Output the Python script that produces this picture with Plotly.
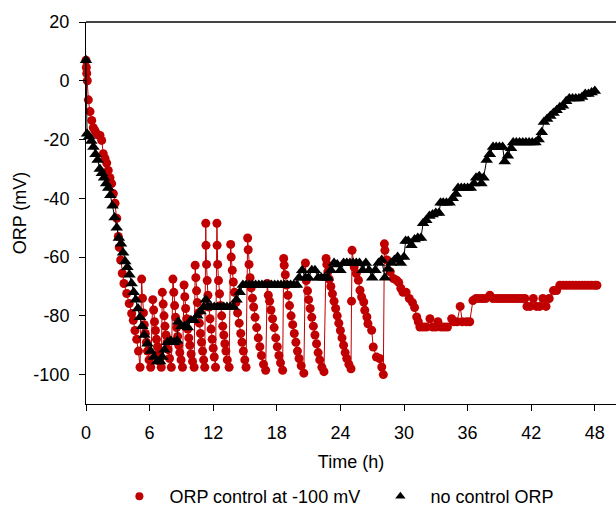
import plotly.graph_objects as go

# ---------------- data ----------------
# ORP control at -100 mV (red)
red_t = [
    0, 0.03, 0.07, 0.12, 0.22, 0.38, 0.54, 0.69, 0.85, 1.0, 1.16, 1.32, 1.48, 1.63, 1.79, 1.95, 2.1, 2.26,
    2.42, 2.58, 2.74, 2.9, 3.05, 3.14, 3.27, 3.42, 3.58, 3.84, 4.08, 4.31, 4.46, 4.62, 4.78, 4.95, 5.1,
    5.25, 5.33, 5.42, 5.5, 5.6, 5.7, 5.8, 5.95, 6.1,
    6.3, 6.38, 6.46, 6.55, 6.65, 6.75, 6.85, 6.95, 7.1,
    7.2, 7.28, 7.36, 7.45, 7.55, 7.65, 7.75, 7.88, 8.05,
    8.2, 8.28, 8.36, 8.45, 8.55, 8.65, 8.75, 8.85, 8.97, 9.1,
    9.25, 9.32, 9.4, 9.5, 9.6, 9.7, 9.8, 9.92, 10.05, 10.2,
    10.3, 10.36, 10.43, 10.5, 10.6, 10.7, 10.8, 10.9, 11.0, 11.1, 11.2,
    11.3, 11.32, 11.37, 11.43, 11.5, 11.6, 11.7, 11.8, 11.9, 12.0, 12.1, 12.22,
    12.35, 12.37, 12.42, 12.5, 12.6, 12.7, 12.8, 12.9, 13.0, 13.1, 13.2, 13.33, 13.5,
    13.65, 13.7, 13.8, 13.9, 14.0, 14.15, 14.3, 14.45, 14.6, 14.72, 14.85, 14.98, 15.1,
    15.25, 15.3, 15.38, 15.48, 15.58, 15.7, 15.82, 15.95, 16.1, 16.25, 16.4, 16.55, 16.75, 16.95,
    17.1, 17.2, 17.32, 17.45, 17.6, 17.75, 17.9, 18.05, 18.2, 18.35, 18.55,
    18.65, 18.7, 18.8, 18.92, 19.05, 19.2, 19.35, 19.5, 19.65, 19.8, 19.95, 20.1, 20.3, 20.55,
    20.7, 20.78, 20.9, 21.0, 21.15, 21.3, 21.45, 21.6, 21.75, 21.9, 22.05, 22.25, 22.45,
    22.65, 22.72, 22.82, 22.95, 23.1, 23.25, 23.4, 23.55, 23.7, 23.85, 24.0, 24.15, 24.3, 24.45, 24.6, 24.8, 25.0,
    25.05, 25.1, 25.3, 25.5, 25.7, 25.85, 26.0, 26.2, 26.3, 26.5, 26.6, 26.95, 27.1, 27.4, 27.7, 27.9, 28.05,
    28.15, 28.2, 28.4, 28.7, 29.0, 29.3, 29.5, 29.7, 29.9, 30.2, 30.5, 30.8, 31.0, 31.2, 31.35,
    31.5, 31.8, 32.1, 32.45, 32.7, 33.0, 33.2, 33.5, 33.8, 34.1, 34.5, 34.7, 35.0, 35.3, 35.5, 35.9, 36.2,
    36.5, 36.8, 37.1, 37.4, 37.7, 38.1, 38.4, 38.7, 39.0, 39.3, 39.6, 39.9, 40.2, 40.5, 40.8, 41.1, 41.4,
    41.6, 41.9, 42.2, 42.5, 42.8, 43.1, 43.4, 43.7, 44.1, 44.4,
    44.7, 45.0, 45.3, 45.6, 45.9, 46.2, 46.5, 46.8, 47.1, 47.4, 47.7, 48.0, 48.2,
]
red_v = [
    7, 4.5, 2.5, 0, -6.5, -10.5, -13.5, -16, -17, -18, -18.5, -18.6, -20.3, -24.8, -26.4, -28, -30.5, -33,
    -35, -38.4, -41.7, -46.8, -53, -56.7, -61, -65.5, -69, -72.4, -75.8, -79.2, -81.5, -85, -88, -92, -97.5,
    -67.5, -74, -79, -83, -86, -89, -92, -95, -97.5,
    -74.5, -78, -82, -85, -88, -90.5, -93, -95.5, -97.5,
    -72, -76, -80, -83.5, -86.5, -89, -91.5, -94.5, -97.5,
    -67.5, -72, -76.5, -80.5, -84, -87, -90, -92.5, -95, -97.5,
    -69.5, -73.5, -77.5, -81, -84.5, -87.5, -90, -93, -95.5, -97.5,
    -62.8, -67, -71.5, -75.5, -79, -82.5, -86, -89, -92, -95, -97.5,
    -48.5, -56, -62.5, -68, -73, -77, -81, -84.5, -88, -91, -94, -97.5,
    -48.5, -56, -62.5, -68, -72.5, -76.5, -80, -83.5, -86.5, -89.5, -92, -95, -97.5,
    -55.7, -60, -64.5, -68.5, -72, -75.5, -79, -82.5, -86, -89, -92, -95, -97.5,
    -53.5, -57.5, -62.5, -67, -70.5, -74, -77, -80.5, -84, -87.5, -90.5, -93.5, -96.5, -98.5,
    -69, -73, -75, -78, -81, -84, -87.5, -90.5, -93.5, -96, -98.5,
    -60.5, -62.8, -66, -69.5, -73, -76.5, -80, -83, -86, -89, -92, -94.5, -97, -99.5,
    -62, -68, -71.5, -74.5, -77.5, -80.5, -83.5, -86.5, -89.5, -92.5, -95, -97.5, -99,
    -60.5, -62.5, -65, -67.5, -70, -72.5, -75, -77.5, -80, -82.5, -85, -87.5, -90, -92.5, -94.5, -96.5, -98,
    -75, -57.7, -63.4, -65.6, -67.9, -71.3, -73.6, -75.3, -78.1, -80.4, -82.7, -84.9, -90.6, -94, -94.5, -97.4, -100,
    -55.5, -57.7, -61, -65, -67.3, -67.9, -68.6, -70.6, -72, -72, -74.1, -75.5, -77.2, -80.4, -82,
    -83.8, -83.8, -83.8, -81, -83.8, -83.8, -82, -83.8, -83.8, -83.8, -81, -82, -82, -76.8, -82, -82, -82,
    -74.8, -74.1, -74.1, -74.1, -74.1, -73, -74.1, -74.1, -74.1, -74.1, -74.1, -74.1, -74.1, -74.1, -74.1, -74.1, -74.1,
    -76.8, -76.8, -74.1, -76.8, -76.8, -74.1, -76.8, -74.1, -71.4, -71.4,
    -69.6, -69.6, -69.6, -69.6, -69.6, -69.6, -69.6, -69.6, -69.6, -69.6, -69.6, -69.6, -69.6,
]

# no control ORP (black)
black_t = [
    0, 0.1, 0.3, 0.5, 0.7, 0.9, 1.1, 1.3, 1.5, 1.7,
    1.9, 2.1, 2.3, 2.5, 2.7, 2.9, 3.1, 3.3, 3.5, 3.7,
    3.9, 4.1, 4.3, 4.5, 4.7, 4.9, 5.1, 5.3, 5.5, 5.8,
    6.1, 6.4, 6.7, 7.0, 7.2, 7.4, 7.7, 8.0, 8.3, 8.6,
    8.7, 9.0, 9.3, 9.6, 9.9, 10.2, 10.5, 10.8, 11.1, 11.3,
    11.5, 11.8, 12.1, 12.4, 12.7, 13.0, 13.3, 13.6, 13.9, 14.2,
    14.5, 14.8, 15.1, 15.4, 15.7, 16.0, 16.3, 16.6, 16.9, 17.2,
    17.5, 17.8, 18.1, 18.4, 18.7, 19.0, 19.3, 19.6, 19.9, 20.1,
    20.4, 20.7, 21.0, 21.3, 21.6, 21.9, 22.2, 22.5, 22.8, 23.1,
    23.4, 23.7, 24.0, 24.3, 24.6, 24.9, 25.2, 25.5, 25.8, 26.1,
    26.4, 26.7, 27.0, 27.3, 27.6, 27.9, 28.2, 28.5, 28.8, 29.1,
    29.4, 29.7, 30.0, 30.15, 30.4, 30.7, 31.0, 31.3, 31.6, 31.8,
    32.1, 32.4, 32.7, 33.0, 33.3, 33.45, 33.7, 34.0, 34.3, 34.6,
    34.9, 35.1, 35.4, 35.7, 36.0, 36.3, 36.6, 36.8, 37.1, 37.3,
    37.5, 37.8, 38.1, 38.4, 38.7, 39.0, 39.3, 39.5, 39.8, 40.1,
    40.3, 40.6, 40.9, 41.2, 41.5, 41.8, 42.1, 42.4, 42.7, 43.0,
    43.2, 43.5, 43.8, 44.1, 44.4, 44.7, 45.0, 45.3, 45.6, 45.9,
    46.2, 46.5, 46.8, 47.1, 47.4, 47.7, 48.0,
]
black_v = [
    7, -18, -19, -20.5, -22.5, -25, -27, -30, -31.5, -33,
    -35, -36.5, -39, -42.5, -46.5, -50, -53.5, -55.5, -58.5, -61.5,
    -63.5, -66, -69, -72, -74.5, -77.5, -80.5, -83.5, -86.5, -89.5,
    -92, -94, -95.5, -95.5, -94, -91.5, -89, -88.5, -89, -88.5,
    -82, -83.5, -83.5, -84, -81.5, -81.5, -80, -78.5, -77, -74.5,
    -77, -77, -77, -77, -77, -77, -77, -77, -77, -74.5,
    -72, -69.5, -69.5, -69.5, -69.5, -69.5, -69.5, -69.5, -69.5, -69.5,
    -69.5, -69.5, -69.5, -69.5, -69.5, -69.5, -69.5, -69.5, -69.5, -67,
    -64.5, -67, -67, -64.5, -64.5, -67, -67, -67, -67, -64.5,
    -62, -62.5, -64.5, -62, -62, -62, -62, -62, -62, -64.5,
    -62, -64.5, -67, -64.5, -62, -61, -67, -64, -62, -61,
    -60, -62, -60, -54.5, -54.5, -56, -54, -53.5, -53.5, -48.5,
    -47.5, -46, -45.5, -45, -45, -41.5, -41.5, -41.5, -41.5, -40,
    -38.5, -36.5, -36.5, -36.5, -36.5, -36.5, -35, -33, -32.5, -35,
    -33, -27, -25, -22.5, -22.5, -22.5, -22.5, -27.5, -25.5, -23,
    -21, -21, -21, -21, -21, -21, -21, -21, -20, -17.5,
    -14, -13, -12, -11, -10, -9, -8.5, -7, -6, -6,
    -6, -6, -5.5, -4.5, -4.5, -4, -3.5,
]

x_ticks = [0, 6, 12, 18, 24, 30, 36, 42, 48]
y_ticks = [-100, -80, -60, -40, -20, 0, 20]

red_name = "ORP control at -100 mV"
black_name = "no control ORP"

RED = "#C00000"
BLACK = "#000000"
FONT = "Liberation Sans, Arial, sans-serif"
FS = 18

fig = go.Figure()

fig.add_trace(go.Scatter(
    x=red_t, y=red_v, mode="lines+markers", showlegend=False,
    line=dict(color=RED, width=1),
    marker=dict(symbol="circle", size=9, color=RED),
    cliponaxis=False,
))
fig.add_trace(go.Scatter(
    x=black_t, y=black_v, mode="lines+markers", showlegend=False,
    line=dict(color=BLACK, width=1),
    marker=dict(symbol="triangle-up", size=11, color=BLACK),
    cliponaxis=False,
))
# legend entries (markers only)
fig.add_trace(go.Scatter(
    x=[None], y=[None], mode="markers", name="  " + red_name,
    marker=dict(symbol="circle", size=8, color=RED),
))
fig.add_trace(go.Scatter(
    x=[None], y=[None], mode="markers", name="  " + black_name,
    marker=dict(symbol="triangle-up", size=9, color=BLACK),
))

fig.update_layout(
    width=616, height=506,
    margin=dict(l=86, r=0, t=22, b=102, autoexpand=False),
    paper_bgcolor="white", plot_bgcolor="white",
    font=dict(family=FONT, size=FS, color="black"),
    legend=dict(
        orientation="h", x=0.063, xanchor="left", y=-0.2425, yanchor="middle",
        font=dict(family=FONT, size=FS, color="black"),
        bgcolor="rgba(0,0,0,0)", itemwidth=30, entrywidth=216,
    ),
    xaxis=dict(
        range=[0, 50], tickvals=x_ticks, ticktext=[str(v) for v in x_ticks],
        ticks="outside", ticklen=6, tickcolor="black", tickwidth=1,
        showline=True, linecolor="black", linewidth=1, automargin=False,
        showgrid=False, zeroline=False, ticklabelstandoff=6,
        title=dict(text="Time (h)", standoff=13, font=dict(size=FS)),
    ),
    yaxis=dict(
        range=[-110, 20], tickvals=y_ticks, ticktext=[str(v) for v in y_ticks],
        ticks="outside", ticklen=6, tickcolor="black", tickwidth=1,
        showline=True, linecolor="black", linewidth=1, automargin=False,
        showgrid=False, zeroline=False, ticklabelstandoff=6,
        title=dict(text="ORP (mV)", standoff=2, font=dict(size=FS)),
    ),
    shapes=[dict(type="line", xref="paper", yref="paper", x0=0, x1=1, y0=1, y1=1,
                 line=dict(color="#444444", width=2))],
)

fig.write_html("out.html", config={"displayModeBar": False},
               post_script="document.body.style.margin='0';")
